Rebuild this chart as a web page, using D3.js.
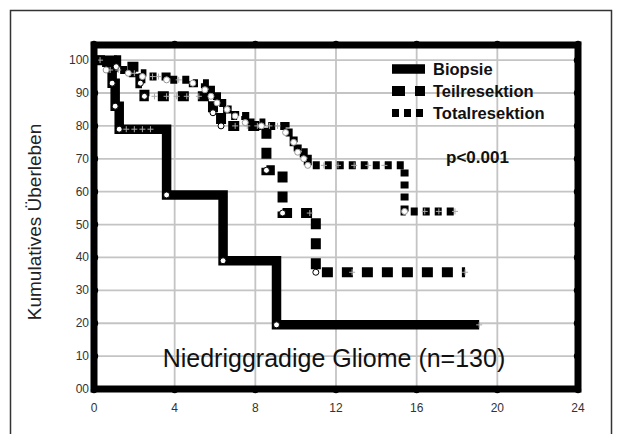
<!DOCTYPE html>
<html>
<head>
<meta charset="utf-8">
<script src="https://cdn.jsdelivr.net/npm/d3@7"></script>
<style>
  body { margin: 0; background: #fff; }
  svg { display: block; font-family: Arial, "Liberation Sans", sans-serif; }
</style>
</head>
<body>
<svg id="chart" width="622" height="434"></svg>
<script>
// x ticks (months) and y ticks (percent)
let xTicks = [0, 4, 8, 12, 16, 20, 24];
let yTicks = [0, 10, 20, 30, 40, 50, 60, 70, 80, 90, 100];
let yTickLabels = ['00', '10', '20', '30', '40', '50', '60', '70', '80', '90', '100'];

// Kaplan-Meier steps: [time, survival after step]
let biopsieSteps = [[0, 100], [0.9, 93], [1.05, 86], [1.25, 79], [3.6, 59], [6.4, 39], [9.05, 19.5]];
let biopsieEnd = 19.1;
let biopsieCensored = [1.6, 2.0, 2.4, 2.8, 19.1];

let teilSteps = [[0, 100], [1.1, 98], [2.3, 93], [2.5, 89], [5.9, 84], [6.3, 80], [8.55, 66.5], [9.35, 53.5], [11.0, 35.5]];
let teilEnd = 18.4;
let teilCensored = [3.0, 3.6, 4.1, 4.6, 5.2, 7.0, 7.6, 8.1, 10.7, 12.8, 18.4];

let totalSteps = [[0, 100], [0.6, 97], [1.7, 96], [2.4, 95], [3.6, 94], [4.9, 93], [5.5, 91], [5.8, 89], [6.1, 87], [6.6, 85], [7.0, 83], [7.5, 81], [8.3, 80], [9.5, 78], [9.9, 75], [10.1, 72], [10.4, 70], [10.6, 68], [15.4, 54]];
let totalEnd = 17.9;
let totalCensored = [0.3, 0.8, 1.2, 2.0, 2.9, 3.2, 4.2, 8.7, 9.1, 11.4, 12.1, 12.9, 13.6, 14.4, 16.4, 17.1, 17.9];

let legendNames = ['Biopsie', 'Teilresektion', 'Totalresektion'];

let svg = d3.select('#chart');
let margin = {top: 45, right: 44, bottom: 45, left: 94};
let width = 622 - margin.left - margin.right;   // 484
let height = 434 - margin.top - margin.bottom;  // 344

let x = d3.scaleLinear().domain([0, 24]).range([0, width]);
let y = d3.scaleLinear().domain([0, 104.6]).range([height, 0]);

// outer picture border
svg.append('path')
  .attr('d', 'M10.5,434 V10.5 H611.5 V434')
  .attr('fill', 'none')
  .attr('stroke', '#333')
  .attr('stroke-width', 1.5);

let g = svg.append('g')
  .attr('transform', 'translate(' + margin.left + ',' + margin.top + ')');

// grid
g.append('g').selectAll('line')
  .data(xTicks.slice(1, -1))
  .enter().append('line')
    .attr('x1', d => x(d)).attr('x2', d => x(d))
    .attr('y1', 0).attr('y2', height)
    .attr('stroke', '#c4c4c4')
    .attr('stroke-width', 1.8);

g.append('g').selectAll('line')
  .data(yTicks.slice(1))
  .enter().append('line')
    .attr('x1', 0).attr('x2', width)
    .attr('y1', d => y(d)).attr('y2', d => y(d))
    .attr('stroke', '#c4c4c4')
    .attr('stroke-width', 1.8);

// step path helper
function stepLine(steps, end) {
  let pts = steps.slice();
  pts.push([end, steps[steps.length - 1][1]]);
  return d3.line()
    .x(d => x(d[0]))
    .y(d => y(d[1]))
    .curve(d3.curveStepAfter)(pts);
}

function valueAt(steps, t) {
  let v = steps[0][1];
  steps.forEach(function(s) { if (s[0] <= t) v = s[1]; });
  return v;
}

let series = [
  {name: 'Biopsie', steps: biopsieSteps, end: biopsieEnd, censored: biopsieCensored, width: 9.5, dash: null, circle: '#000'},
  {name: 'Teilresektion', steps: teilSteps, end: teilEnd, censored: teilCensored, width: 10, dash: '11,9', circle: '#000'},
  {name: 'Totalresektion', steps: totalSteps, end: totalEnd, censored: totalCensored, width: 8, dash: '7,5', circle: '#999'}
];

series.forEach(function(s) {
  g.append('path')
    .attr('d', stepLine(s.steps, s.end))
    .attr('fill', 'none')
    .attr('stroke', '#000')
    .attr('stroke-width', s.width)
    .attr('stroke-dasharray', s.dash)
    .attr('stroke-linejoin', 'miter');
});

// censored marks (+) and event circles
series.forEach(function(s) {
  let cg = g.append('g');
  cg.selectAll('path')
    .data(s.censored)
    .enter().append('path')
      .attr('d', function(t) {
        let cx = x(t), cy = y(valueAt(s.steps, t));
        return 'M' + (cx - 3) + ',' + cy + 'H' + (cx + 3) + 'M' + cx + ',' + (cy - 3) + 'V' + (cy + 3);
      })
      .attr('stroke', '#aaa')
      .attr('stroke-width', 1);

  cg.selectAll('circle')
    .data(s.steps.slice(1))
    .enter().append('circle')
      .attr('cx', d => x(d[0]))
      .attr('cy', d => y(d[1]))
      .attr('r', 3)
      .attr('fill', '#fff')
      .attr('stroke', s.circle)
      .attr('stroke-width', 1);
});

// frame
g.append('rect')
  .attr('x', 0).attr('y', 0)
  .attr('width', width).attr('height', height)
  .attr('fill', 'none')
  .attr('stroke', '#000')
  .attr('stroke-width', 7);

// tick dots on the frame
let dots = [];
xTicks.forEach(function(t) { dots.push([x(t), height + 1], [x(t), -1]); });
yTicks.forEach(function(v) { dots.push([1, y(v)], [width - 1, y(v)]); });
g.append('g').selectAll('circle')
  .data(dots)
  .enter().append('circle')
    .attr('cx', d => d[0]).attr('cy', d => d[1])
    .attr('r', 3.2)
    .attr('fill', '#000');

// tick labels
g.append('g').selectAll('text')
  .data(xTicks)
  .enter().append('text')
    .attr('x', d => x(d))
    .attr('y', height + 23)
    .attr('text-anchor', 'middle')
    .attr('font-size', 12)
    .attr('fill', '#333')
    .text(d => d);

g.append('g').selectAll('text')
  .data(yTicks)
  .enter().append('text')
    .attr('x', -5)
    .attr('y', d => y(d) + 4)
    .attr('text-anchor', 'end')
    .attr('font-size', 12)
    .attr('fill', '#333')
    .text((d, i) => yTickLabels[i]);

// axis title
svg.append('text')
  .attr('transform', 'translate(41,222) rotate(-90)')
  .attr('text-anchor', 'middle')
  .attr('font-size', 19)
  .attr('fill', '#222')
  .text('Kumulatives Überleben');

// inner title
g.append('text')
  .attr('x', x(11.9))
  .attr('y', y(6.6))
  .attr('text-anchor', 'middle')
  .attr('font-size', 25)
  .attr('fill', '#111')
  .text('Niedriggradige Gliome (n=130)');

// legend
let legend = svg.append('g').attr('transform', 'translate(392,69)');
legendNames.forEach(function(name, i) {
  let s = series[i];
  legend.append('line')
    .attr('x1', 0).attr('x2', i === 2 ? 31 : 33)
    .attr('y1', i * 22).attr('y2', i * 22)
    .attr('stroke', '#000')
    .attr('stroke-width', s.width)
    .attr('stroke-dasharray', i === 1 ? '13,10' : s.dash);
  legend.append('text')
    .attr('x', 41)
    .attr('y', i * 22 + 6)
    .attr('font-size', 16.5)
    .attr('font-weight', 'bold')
    .attr('fill', '#111')
    .text(name);
});

svg.append('text')
  .attr('x', 446)
  .attr('y', 163)
  .attr('font-size', 17)
  .attr('font-weight', 'bold')
  .attr('fill', '#111')
  .text('p<0.001');
</script>
</body>
</html>
